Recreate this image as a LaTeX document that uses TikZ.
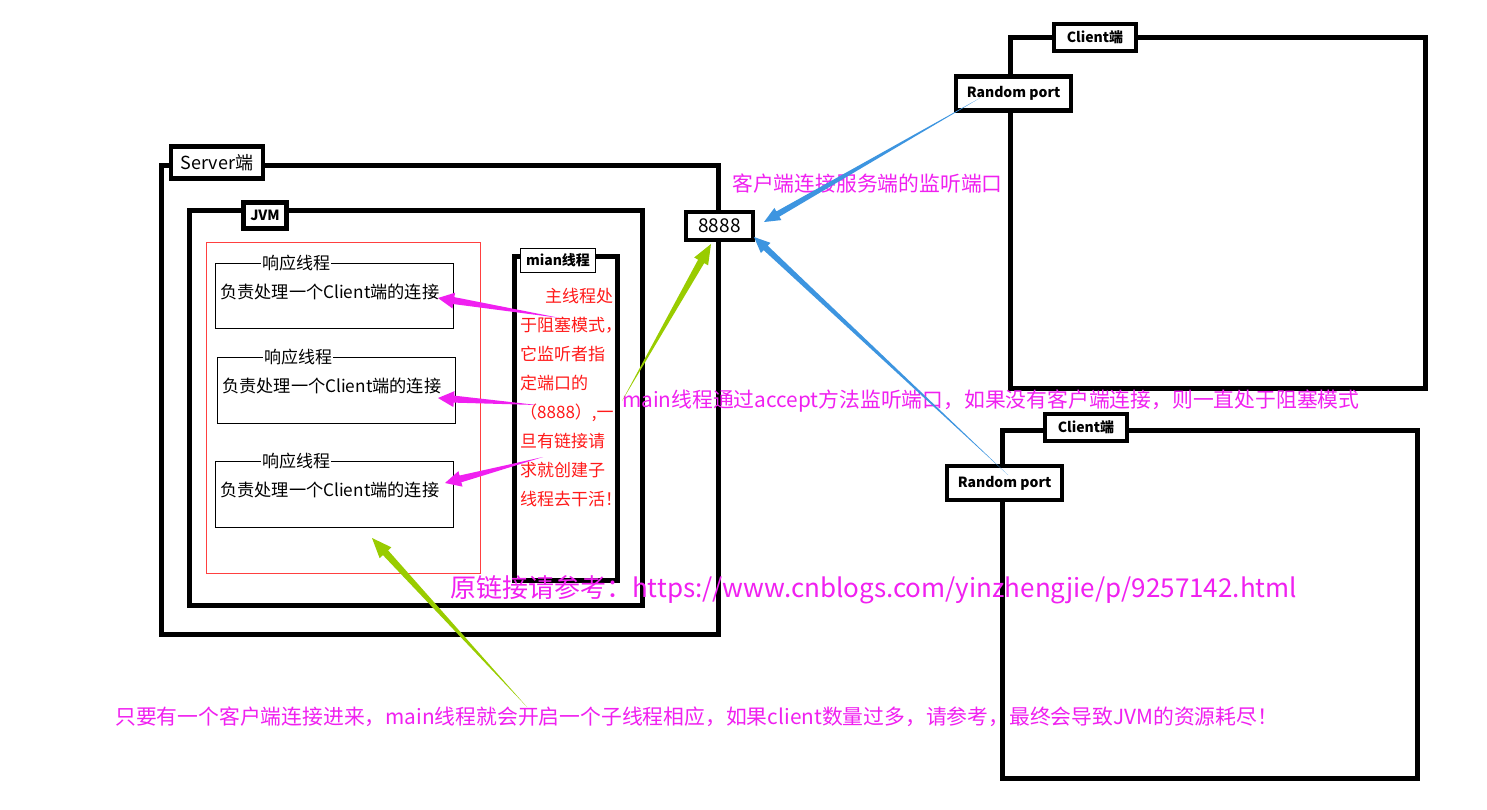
\documentclass[tikz,border=0pt]{standalone}
\usepackage{fontspec}
\setmainfont{Noto Sans CJK SC}
\usetikzlibrary{calc}
\definecolor{notepink}{HTML}{F020F0}
\definecolor{notered}{HTML}{FF1A1A}
\definecolor{framered}{HTML}{FF4040}
\definecolor{arrowgreen}{HTML}{99CC00}
\definecolor{arrowblue}{HTML}{3D95E0}
\tikzset{
  box/.style={draw, line width=5pt, inner sep=0pt},
  thinbox/.style={draw, line width=1pt, inner sep=0pt},
  tag/.style={draw, line width=4.5pt, fill=white, inner sep=0pt, font=\fontsize{14}{16}\selectfont\bfseries},
  title/.style={fill=white, inner sep=1pt, font=\fontsize{17}{18}\selectfont},
  body/.style={inner sep=0pt, anchor=west, font=\fontsize{17.2}{18}\selectfont},
  note/.style={inner sep=0pt, anchor=west, text=notepink, font=\fontsize{20.8}{24}\selectfont},
  taper/.style n args={3}{to path={
      -- ($(\tikztotarget)!#3!(\tikztostart)!#1!90:(\tikztostart)$)
      -- ($(\tikztotarget)!#3!(\tikztostart)!#2!90:(\tikztostart)$)
      -- (\tikztotarget)
      -- ($(\tikztotarget)!#3!(\tikztostart)!#2!-90:(\tikztostart)$)
      -- ($(\tikztotarget)!#3!(\tikztostart)!#1!-90:(\tikztostart)$)
      -- cycle}},
}
\begin{document}
\begin{tikzpicture}[x=1pt, y=-1pt]
\useasboundingbox[fill=white] (0,0) rectangle (1487,810);
% server side
\node[box, minimum width=557, minimum height=469] (server) at (440,400) {};
\node[box, minimum width=453, minimum height=394] (jvm) at (416,408) {};
\node[thinbox, draw=framered, minimum width=274, minimum height=330] (pool) at (343,408) {};
\node[thinbox, minimum width=238, minimum height=65] (t1) at (334.5,296) {};
\node[thinbox, minimum width=238, minimum height=66] (t2) at (336,390) {};
\node[thinbox, minimum width=238, minimum height=66] (t3) at (334.5,494) {};
\node[box, minimum width=103, minimum height=324] (mainbox) at (566,418) {};
% client side
\node[box, minimum width=415, minimum height=350] (c1) at (1218,213) {};
\node[box, minimum width=415, minimum height=348] (c2) at (1210,604) {};

% tags
\node[tag, minimum width=92, minimum height=32, font=\fontsize{18}{20}\selectfont] (servertag) at (217,162.5) {Server端};
\node[tag, minimum width=43, minimum height=26] (jvmtag) at (265,215.5) {JVM};
\node[thinbox, fill=white, minimum width=75, minimum height=24, font=\fontsize{14}{16}\selectfont\bfseries] (maintag) at (558,260.5) {mian线程};
\node[tag, minimum width=67, minimum height=28, font=\fontsize{19}{20}\selectfont\mdseries] (port) at (719.5,226) {8888};
\node[tag, minimum width=82, minimum height=27] (c1tag) at (1095,37.5) {Client端};
\node[tag, minimum width=115, minimum height=34] (r1) at (1013.5,93.5) {Random port};
\node[tag, minimum width=82, minimum height=27] (c2tag) at (1086,427.5) {Client端};
\node[tag, minimum width=115, minimum height=34] (r2) at (1004.5,483) {Random port};

% worker threads
\node[title] (t1title) at (296,263) {响应线程\hspace{9pt}};
\node[body] (t1text) at (220,292) {负责处理一个Client端的连接};
\node[title] (t2title) at (298,357) {响应线程\hspace{9pt}};
\node[body] (t2text) at (222,386) {负责处理一个Client端的连接};
\node[title] (t3title) at (296,461) {响应线程\hspace{9pt}};
\node[body] (t3text) at (220,490) {负责处理一个Client端的连接};

% main thread note
\node[inner sep=0pt, anchor=north west, align=left, text=notered, font=\fontsize{17}{29}\selectfont] (mainnote) at (520,288)
  {\hspace{25pt}主线程处\\于阻塞模式，\\它监听者指\\定端口的\\（8888）,一\\旦有链接请\\求就创建子\\线程去干活！};

% notes
\node[note] (clientnote) at (732,184) {客户端连接服务端的监听端口};
\node[note] (acceptnote) at (622,401) {main线程通过accept方法监听端口，如果没有客户端连接，则一直处于阻塞模式};
\node[note, font=\fontsize{26}{30}\selectfont] (link) at (450,590) {原链接请参考：https://www.cnblogs.com/yinzhengjie/p/9257142.html};
\node[note] (endnote) at (115,717) {只要有一个客户端连接进来，main线程就会开启一个子线程相应，如果client数量过多，请参考，最终会导致JVM的资源耗尽！};

% arrow ends
\coordinate (a1s) at (560,318);
\coordinate (a1e) at (438,298);
\coordinate (a2s) at (537,405);
\coordinate (a2e) at (438,398);
\coordinate (a3s) at (543,457);
\coordinate (a3e) at (445,483);
\coordinate (g1e) at (711,244);
\coordinate (g2s) at (527,707);
\coordinate (g2e) at (372,538);
\coordinate (b1s) at (980,98);
\coordinate (b1e) at (764,222);
\coordinate (b2s) at (1008,475);
\coordinate (b2e) at (754,237);

% arrows
\fill[notepink] (a1s) to[taper={3.5pt}{8pt}{16pt}] (a1e);
\fill[notepink] (a2s) to[taper={3.5pt}{8pt}{16pt}] (a2e);
\fill[notepink] (a3s) to[taper={3.5pt}{8pt}{16pt}] (a3e);
\fill[arrowgreen] (acceptnote.west) to[taper={3.5pt}{8pt}{20pt}] (g1e);
\fill[arrowgreen] (g2s) to[taper={3.5pt}{8pt}{20pt}] (g2e);
\fill[arrowblue] (b1s) to[taper={3pt}{7pt}{16pt}] (b1e);
\fill[arrowblue] (b2s) to[taper={3pt}{7pt}{16pt}] (b2e);
\end{tikzpicture}
\end{document}
